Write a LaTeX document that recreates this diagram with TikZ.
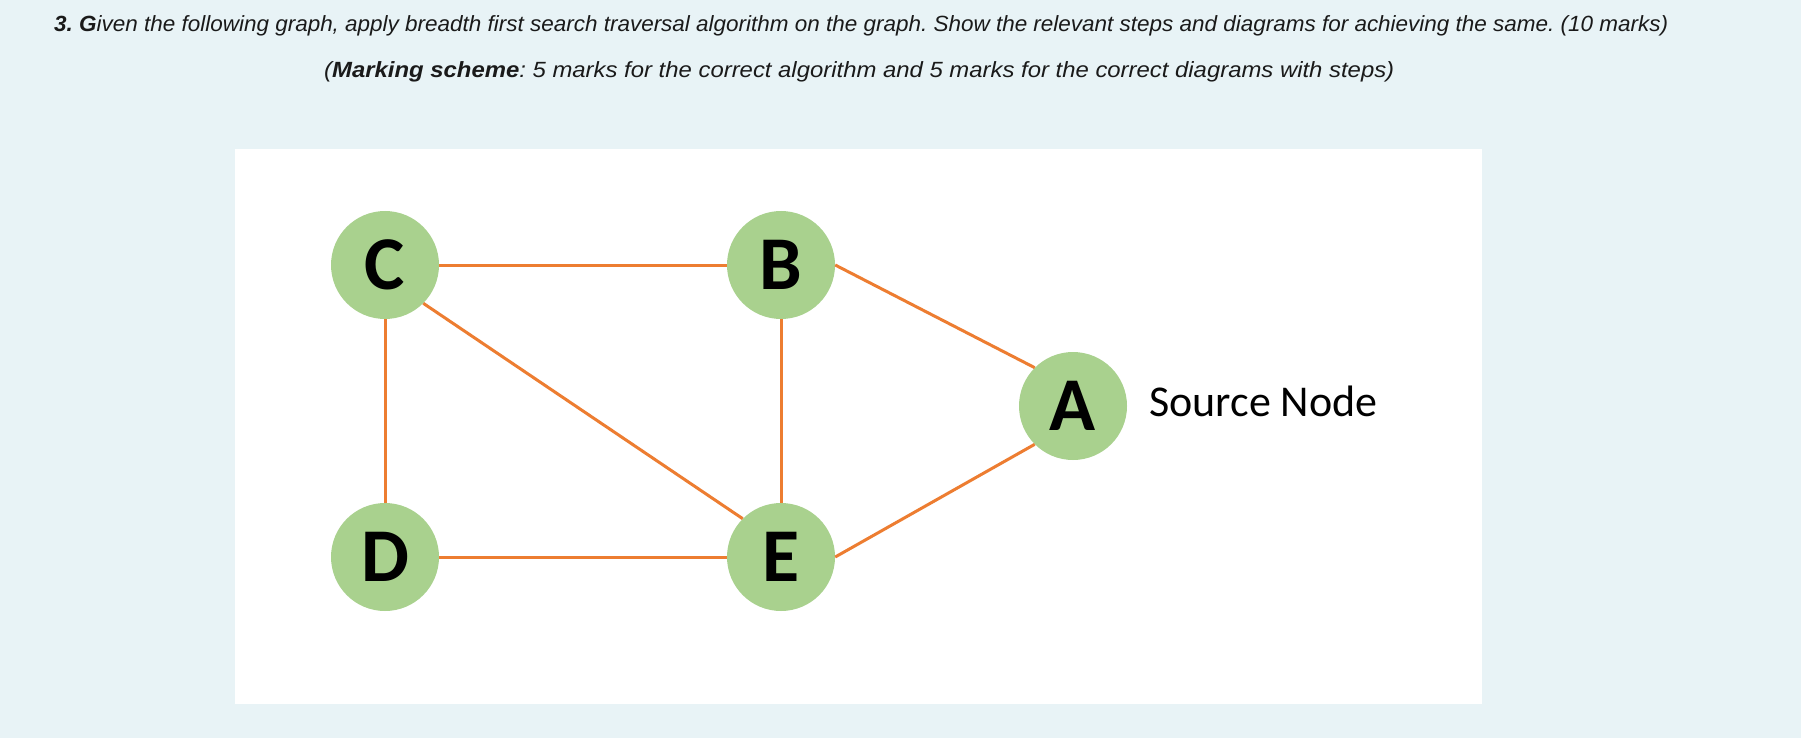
\documentclass[tikz,border=0pt]{standalone}
\usepackage{graphicx}
\usepackage{fontspec}
\setmainfont{Liberation Sans}
\newfontfamily\calib{Carlito}
\definecolor{bgc}{HTML}{E8F3F6}
\definecolor{edgeor}{HTML}{ED7D31}
\definecolor{nodegr}{HTML}{A9D18E}
\definecolor{txt}{HTML}{1A1A1A}
\begin{document}
\frenchspacing
\begin{tikzpicture}[x=1pt,y=-1pt,
  vert/.style={circle, fill=nodegr, minimum size=108pt, inner sep=0pt, font=\calib\bfseries\fontsize{76}{76}\selectfont},
  link/.style={draw=edgeor, line width=3pt},
  qtext/.style={text=txt, font=\fontsize{22}{22}\selectfont\itshape, inner sep=0pt}]
\fill[bgc] (0,0) rectangle (1801,738);
\useasboundingbox (0,0) rectangle (1801,738);
\fill[white] (235,149) rectangle (1482,704);
\node[qtext, anchor=base west] (q1) at (54,32) {\resizebox{1614pt}{\height}{\textbf{3. G}iven the following graph, apply breadth first search traversal algorithm on the graph. Show the relevant steps and diagrams for achieving the same. (10 marks)}};
\node[qtext, anchor=base west] (q2) at (324,78) {\resizebox{1070pt}{\height}{(\textbf{Marking scheme}: 5 marks for the correct algorithm and 5 marks for the correct diagrams with steps)}};
\node[vert] (C) at (385,265) {C};
\node[vert] (B) at (781,265) {B};
\node[vert] (A) at (1073,406) {A};
\node[vert] (D) at (385,557) {D};
\node[vert] (E) at (781,557) {E};
\node[anchor=base west, inner sep=0pt, font=\calib\fontsize{44}{44}\selectfont] (src) at (1149,416) {Source Node};
\draw[link] (C.east) -- (B.west);
\draw[link] (C.south) -- (D.north);
\draw[link] (B.south) -- (E.north);
\draw[link] (D.east) -- (E.west);
\draw[link] (C.south east) -- (E.north west);
\draw[link] (B.east) -- (A.north west);
\draw[link] (E.east) -- (A.south west);
\end{tikzpicture}
\end{document}
